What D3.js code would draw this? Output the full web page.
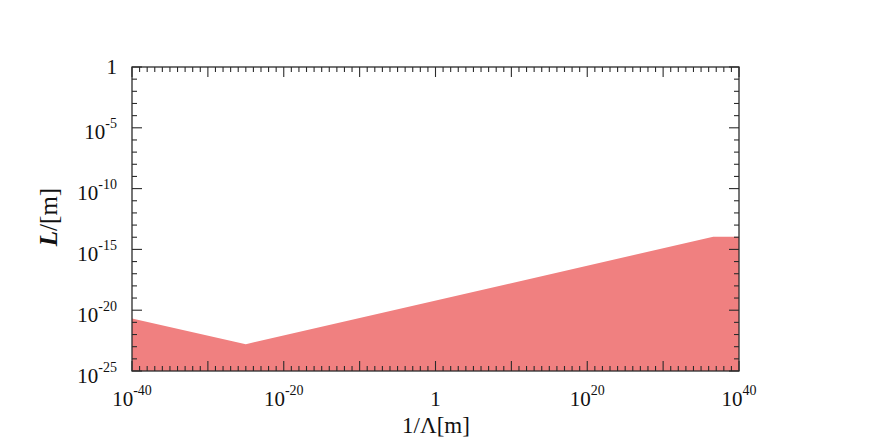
<!DOCTYPE html>
<html>
<head>
<meta charset="utf-8">
<script src="https://cdn.jsdelivr.net/npm/d3@7"></script>
<style>
  body { margin: 0; background: #fff; }
  svg text { font-family: "Liberation Serif", "DejaVu Serif", serif; fill: #111; }
</style>
</head>
<body>
<svg id="chart" width="871" height="438"></svg>
<script>
// ---- data ----
const invLambda = [1e-40, 1e-25, 4e36, 1e40];          // 1/Λ [m]
const lengthL   = [2.1e-21, 1.6e-23, 1.1e-14, 1.1e-14]; // L [m] (upper edge of shaded region)
const xTickExps = [-40, -20, 0, 20, 40];
const yTickExps = [0, -5, -10, -15, -20, -25];
const xDomain = [1e-40, 1e40];
const yDomain = [1e-25, 1];

(function () {
// ---- layout ----
const svg = d3.select("#chart");
const pL = 132, pR = 739, pT = 67, pB = 371;

const x = d3.scaleLog().domain(xDomain).range([pL, pR]);
const y = d3.scaleLog().domain(yDomain).range([pB, pT]);

// filled region
const pts = invLambda.map((v, i) => ({ x: v, y: lengthL[i] }));
const area = d3.area()
  .x(d => x(d.x))
  .y0(() => y(yDomain[0]))
  .y1(d => y(d.y));
svg.append("path")
  .datum(pts)
  .attr("d", area)
  .attr("fill", "#f08080")
  .attr("stroke", "none");

// frame
const axisColor = "#2b2b2b";
svg.append("rect")
  .attr("x", pL).attr("y", pT)
  .attr("width", pR - pL).attr("height", pB - pT)
  .attr("fill", "none").attr("stroke", axisColor).attr("stroke-width", 1.3);

// ticks (inward on all sides)
const xExpsAll = d3.range(-40, 41);
const yExpsAll = d3.range(-25, 1);
const tg = svg.append("g").attr("stroke", axisColor).attr("stroke-width", 1.1);
xExpsAll.forEach(e => {
  const px = x(Math.pow(10, e));
  const len = (e % 10 === 0) ? 10 : 5;
  tg.append("line").attr("x1", px).attr("x2", px).attr("y1", pB).attr("y2", pB - len);
  tg.append("line").attr("x1", px).attr("x2", px).attr("y1", pT).attr("y2", pT + len);
});
yExpsAll.forEach(e => {
  const py = y(Math.pow(10, e));
  const len = (e % 5 === 0) ? 10 : 5;
  tg.append("line").attr("x1", pL).attr("x2", pL + len).attr("y1", py).attr("y2", py);
  tg.append("line").attr("x1", pR).attr("x2", pR - len).attr("y1", py).attr("y2", py);
});

function powLabel(sel, e) {
  if (e === 0) {
    sel.append("tspan").text("1");
  } else {
    sel.append("tspan").text("10");
    sel.append("tspan").attr("dy", -11).attr("font-size", 14).text(String(e));
  }
}

// x tick labels
xTickExps.forEach(e => {
  const t = svg.append("text")
    .attr("x", x(Math.pow(10, e)))
    .attr("y", 406)
    .attr("text-anchor", "middle")
    .attr("font-size", 21);
  powLabel(t, e);
});

// y tick labels
yTickExps.forEach(e => {
  const py = y(Math.pow(10, e));
  const t = svg.append("text")
    .attr("x", 117)
    .attr("y", py + (e === 0 ? 7 : 11.5))
    .attr("text-anchor", "end")
    .attr("font-size", 21);
  powLabel(t, e);
});

// axis titles
const yt = svg.append("text")
  .attr("transform", "translate(57,217) rotate(-90)")
  .attr("text-anchor", "middle")
  .attr("font-size", 25);
yt.append("tspan").attr("font-style", "italic").attr("font-weight", "bold").text("L");
yt.append("tspan").text("/[m]");

svg.append("text")
  .attr("x", 436)
  .attr("y", 433)
  .attr("text-anchor", "middle")
  .attr("font-size", 23)
  .text("1/Λ[m]");
})();
</script>
</body>
</html>
